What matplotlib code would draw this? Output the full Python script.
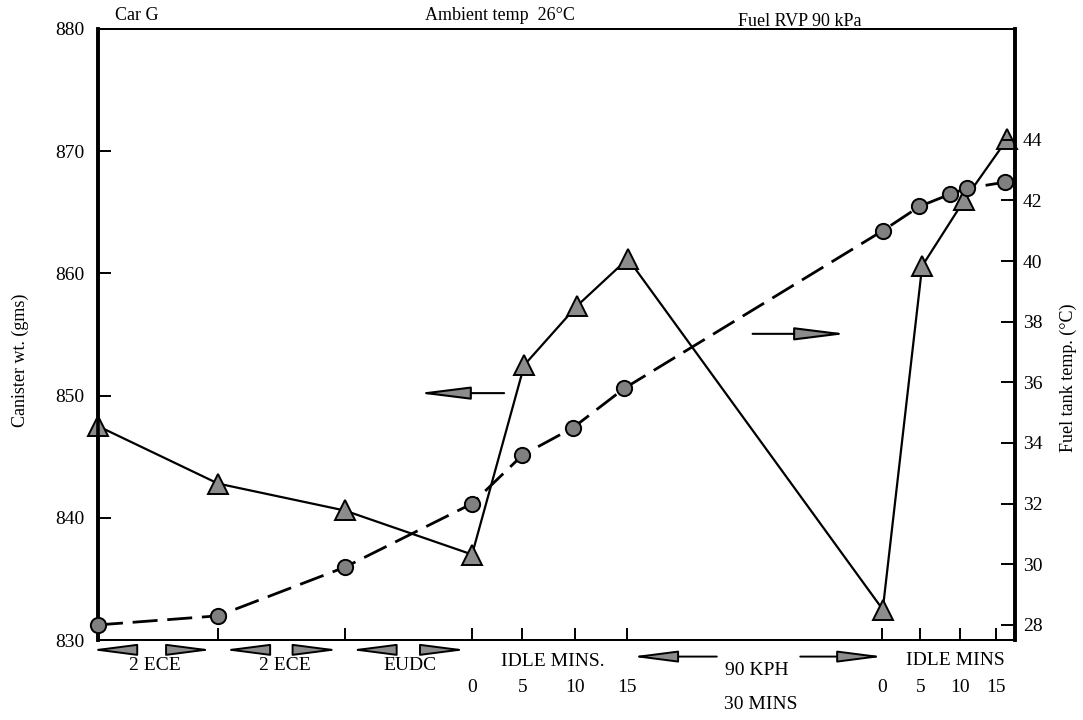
import matplotlib
matplotlib.use("Agg")
import matplotlib.pyplot as plt

plt.rcParams['font.family'] = ['Liberation Serif', 'DejaVu Serif']

# ---- test sequence layout (schematic position along the drive cycle) ----
stage_ticks = [13.1, 26.9, 40.8, 46.3, 52.0, 57.7, 85.5, 89.7, 94.0, 98.0]
idle1_ticks = [40.8, 46.3, 52.0, 57.7]
idle2_ticks = [85.5, 89.7, 94.0, 98.0]
idle_labels = ['0', '5', '10', '15']
cycle_bounds = [-1.4, 13.1, 26.9, 40.8]
cycle_names = ['2 ECE', '2 ECE', 'EUDC']
cycle_label_x = [6.2, 20.4, 34.0]

# ---- canister weight (left axis, g) ----
canister_x = [0, 13.1, 26.9, 40.8, 46.5, 52.2, 57.8, 85.6, 89.9, 94.5, 99.2]
canister_wt = [847.5, 842.8, 840.6, 837.0, 852.5, 857.3, 861.2, 832.5, 860.6, 866.0, 871.0]

# ---- fuel tank temperature (right axis, deg C) ----
tank_x = [0, 13.1, 26.9, 40.8, 46.3, 51.8, 57.4, 85.6, 89.6, 92.9, 94.8, 98.9]
tank_temp = [28.0, 28.3, 29.9, 32.0, 33.6, 34.5, 35.8, 41.0, 41.8, 42.2, 42.4, 42.6]

wt_ticks = [830, 840, 850, 860, 870, 880]
temp_ticks = [28, 30, 32, 34, 36, 38, 40, 42, 44]

fig = plt.figure(figsize=(10.83, 7.2), dpi=100)
ax = fig.add_axes([0.0905, 0.111, 0.8465, 0.849])
ax.set_xlim(0, 100)
ax.set_ylim(830, 880)
ax2 = ax.twinx()
ax2.set_ylim(27.5, 47.66)

for a in (ax, ax2):
    a.spines['left'].set_linewidth(2.6)
    a.spines['right'].set_linewidth(2.6)
    a.spines['top'].set_linewidth(1.4)
    a.spines['bottom'].set_linewidth(1.4)

ax.set_yticks(wt_ticks)
ax.set_yticklabels([str(v) for v in wt_ticks])
ax.tick_params(axis='y', direction='in', length=9, width=1.4, labelsize=14, pad=10)
ax.set_xticks(stage_ticks)
ax.set_xticklabels([])
ax.tick_params(axis='x', direction='in', length=9, width=1.4)

ax2.set_yticks(temp_ticks)
ax2.set_yticklabels([str(v) for v in temp_ticks])
ax2.tick_params(axis='y', direction='in', length=10, width=1.4, labelsize=14, pad=6)

# series
ax.plot(canister_x, canister_wt, color='black', lw=1.6, marker='^',
        markersize=14, markerfacecolor='0.55', markeredgecolor='black',
        markeredgewidth=1.4, clip_on=False, zorder=5)
ax2.plot(tank_x, tank_temp, color='black', lw=2.0, dashes=(9, 3.5),
         marker='o', markersize=11, markerfacecolor='0.5',
         markeredgecolor='black', markeredgewidth=1.4, clip_on=False, zorder=5)

# arrows pointing each curve to its axis
arrow_kw = dict(arrowstyle='-|>,head_length=1.6,head_width=0.2',
                mutation_scale=20, color='black', lw=1.5, fc='0.55')
ax.annotate('', xy=(34.6, 850.2), xytext=(44.6, 850.2), arrowprops=arrow_kw)
ax2.annotate('', xy=(82.0, 37.6), xytext=(71.1, 37.6), arrowprops=arrow_kw)

# drive cycle annotation under the axis
trans = ax.get_xaxis_transform()
small_arrow = dict(arrowstyle='-|>,head_length=1.4,head_width=0.18',
                   mutation_scale=20, color='black', lw=1.4, fc='0.55')
for i, name in enumerate(cycle_names):
    s, e = cycle_bounds[i], cycle_bounds[i + 1]
    ax.annotate('', xy=(s + 0.3, -0.016), xytext=(s + 4.9, -0.016),
                xycoords=trans, textcoords=trans, arrowprops=small_arrow,
                annotation_clip=False)
    ax.annotate('', xy=(e - 0.3, -0.016), xytext=(e - 4.9, -0.016),
                xycoords=trans, textcoords=trans, arrowprops=small_arrow,
                annotation_clip=False)
    ax.text(cycle_label_x[i], -0.041, name, transform=trans, ha='center',
            va='center', fontsize=14)

ax.text(49.6, -0.035, 'IDLE MINS.', transform=trans, ha='center', va='center', fontsize=14)
for xv, lab in zip(idle1_ticks, idle_labels):
    ax.text(xv, -0.078, lab, transform=trans, ha='center', va='center', fontsize=14)

ax.annotate('', xy=(57.9, -0.027), xytext=(67.8, -0.027), xycoords=trans,
            textcoords=trans, arrowprops=small_arrow, annotation_clip=False)
ax.annotate('', xy=(86.0, -0.027), xytext=(76.3, -0.027), xycoords=trans,
            textcoords=trans, arrowprops=small_arrow, annotation_clip=False)
ax.text(71.9, -0.049, '90 KPH', transform=trans, ha='center', va='center', fontsize=14)
ax.text(72.3, -0.106, '30 MINS', transform=trans, ha='center', va='center', fontsize=14)

ax.text(93.5, -0.033, 'IDLE MINS', transform=trans, ha='center', va='center', fontsize=14)
for xv, lab in zip(idle2_ticks, idle_labels):
    ax.text(xv, -0.078, lab, transform=trans, ha='center', va='center', fontsize=14)

# header and axis titles
fig.text(137 / 1083, 1 - 15 / 720, 'Car G', ha='center', va='center', fontsize=13)
fig.text(500 / 1083, 1 - 15 / 720, 'Ambient temp  26°C', ha='center', va='center', fontsize=13)
fig.text(800 / 1083, 1 - 22 / 720, 'Fuel RVP 90 kPa', ha='center', va='center', fontsize=13)
fig.text(20 / 1083, 0.5, 'Canister wt. (gms)', rotation=90, ha='center',
         va='center', fontsize=13)
fig.text(1068 / 1083, 0.476, 'Fuel tank temp. (°C)', rotation=90, ha='center',
         va='center', fontsize=13)

fig.savefig('out.png', dpi=100)
